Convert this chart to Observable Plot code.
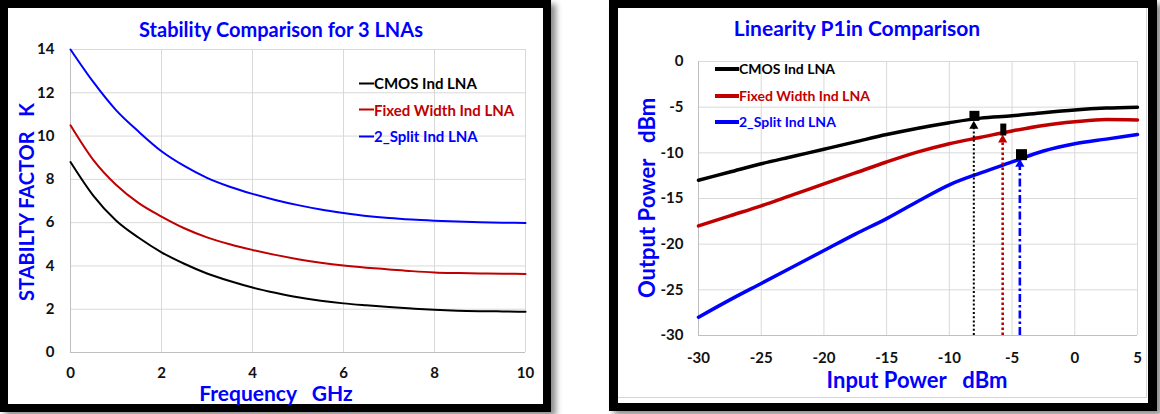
<!DOCTYPE html>
<html><head><meta charset="utf-8">
<script src="https://cdn.jsdelivr.net/npm/d3@7"></script>
<script src="https://cdn.jsdelivr.net/npm/@observablehq/plot@0.6"></script>
<style>
html,body{margin:0;padding:0;background:#fff;width:1160px;height:414px;overflow:hidden;font-family:Lato,"Open Sans",sans-serif;}
.frame{position:absolute;background:#000;box-shadow:5px 4px 6px rgba(0,0,0,0.45);}
.inner{position:absolute;background:#fff;}
.holder{position:absolute;top:0;}
.t{position:absolute;white-space:pre;font-weight:bold;color:#0000ff;transform:translate(-50%,-50%);line-height:1;}
.rot{transform:translate(-50%,-50%) rotate(-90deg);}
.leg{position:absolute;white-space:pre;font-weight:bold;line-height:1;display:flex;align-items:center;transform:translateY(-50%);}
.leg span.ln{display:inline-block;}
svg text{white-space:pre;}
</style></head><body>
<div class="frame" style="left:0;top:0;width:551px;height:412px"><div class="inner" style="left:8px;top:8px;width:535px;height:396px"></div></div>
<div class="frame" style="left:609px;top:0;width:548px;height:411px"><div class="inner" style="left:9px;top:8px;width:530px;height:395px"></div>
  <div style="position:absolute;left:9px;top:8px;width:528px;height:389px;border-right:1px solid #d4d4d4;border-bottom:1px solid #d4d4d4"></div></div>
<div id="p1" class="holder" style="left:0"></div>
<div id="p2" class="holder" style="left:580px"></div>
<div id="txt"></div>
<script>
// ---------- Left chart: Stability ----------
const freq = [0,0.5,1,1.5,2,2.5,3,3.5,4,4.5,5,5.5,6,6.5,7,7.5,8,8.5,9,9.5,10];
const kCmos  = [8.8,7.25,6.1,5.3,4.63,4.1,3.65,3.3,3.0,2.76,2.55,2.39,2.27,2.18,2.1,2.03,1.97,1.93,1.91,1.9,1.88];
const kFixed = [10.5,8.9,7.75,6.9,6.28,5.74,5.32,5.0,4.74,4.51,4.31,4.15,4.02,3.92,3.84,3.76,3.7,3.67,3.65,3.64,3.63];
const kSplit = [14.0,12.5,11.2,10.2,9.3,8.62,8.07,7.66,7.33,7.05,6.81,6.61,6.45,6.31,6.21,6.14,6.09,6.05,6.02,6.0,5.98];
const freqTicks = [0,2,4,6,8,10];
const kTicks = [0,2,4,6,8,10,12,14];

// ---------- Right chart: Linearity ----------
const pin = [-30,-27.5,-25,-22.5,-20,-17.5,-15,-12.5,-10,-7.5,-5,-2.5,0,2.5,5];
const poCmos  = [-13.0,-12.1,-11.2,-10.4,-9.6,-8.8,-8.0,-7.3,-6.7,-6.2,-5.95,-5.6,-5.3,-5.1,-5.0];
const poFixed = [-18.0,-16.9,-15.8,-14.6,-13.4,-12.2,-11.0,-9.9,-9.0,-8.3,-7.6,-7.0,-6.6,-6.35,-6.4];
const poSplit = [-28.0,-26.1,-24.3,-22.5,-20.7,-18.9,-17.2,-15.3,-13.5,-12.2,-11.0,-9.8,-9.0,-8.5,-8.0];
const pinTicks = [-30,-25,-20,-15,-10,-5,0,5];
const poTicks = [-30,-25,-20,-15,-10,-5,0];
// P1dB markers and arrows
const p1x = [-8.0,-5.7,-4.25];
const p1y = [-5.95,-7.45,-10.2];
const p1w = [10,6,11];
const p1h = [10,12,11];
const arrowX = [-8.05,-5.75,-4.38];
const arrowTop = [-6.75,-8.25,-10.9];
const arrowDash = ["2,2.2","2.6,2.4","8,3,2.5,3"];
const arrowWidth = [2,2.6,2.6];

const names = ["CMOS Ind LNA","Fixed Width Ind LNA","2_Split Ind LNA"];
const colors = ["#000000","#c00000","#0000ff"];

const font = "Lato, 'Open Sans', sans-serif";
const grid = "#d9d9d9";
const axisCol = "#bfbfbf";
const fmt = d => String(d);

// Left
const leftRows = [];
[kCmos,kFixed,kSplit].forEach((arr,s)=>arr.forEach((v,i)=>leftRows.push({f:freq[i],k:v,s})));
const p1 = Plot.plot({
  width:552, height:414,
  marginLeft:70, marginRight:27, marginTop:49, marginBottom:62,
  style:{background:"transparent",fontFamily:font,overflow:"visible"},
  x:{domain:[0,10]}, y:{domain:[0,14]},
  marks:[
    Plot.gridX(freqTicks.slice(1),{stroke:grid,strokeOpacity:1}),
    Plot.gridY(kTicks.slice(1),{stroke:grid,strokeOpacity:1}),
    Plot.ruleX([0],{stroke:axisCol}),
    Plot.ruleY([0],{stroke:axisCol}),
    Plot.axisX(freqTicks,{tickSize:0,tickPadding:15,fontSize:15,fontWeight:"bold",fill:"#111",label:null,tickFormat:fmt}),
    Plot.axisY(kTicks,{tickSize:0,tickPadding:16,fontSize:15,fontWeight:"bold",fill:"#111",label:null,tickFormat:fmt}),
    ...[0,1,2].map(s=>Plot.line(leftRows.filter(d=>d.s===s),{x:"f",y:"k",stroke:colors[s],strokeWidth:2,curve:"monotone-x"}))
  ]
});
document.getElementById("p1").appendChild(p1);

// Right
const rightRows = [];
[poCmos,poFixed,poSplit].forEach((arr,s)=>arr.forEach((v,i)=>rightRows.push({x:pin[i],y:v,s})));
const markers = p1x.map((x,i)=>({x,y:p1y[i],w:p1w[i],h:p1h[i]}));
const rectSymbol = (w,h)=>({draw(ctx){ctx.rect(-w/2,-h/2,w,h);}});
const arrows = arrowX.map((x,i)=>({x,top:arrowTop[i],bottom:-30,c:colors[i],dash:arrowDash[i],sw:arrowWidth[i]}));
const p2 = Plot.plot({
  width:580, height:414,
  marginLeft:118, marginRight:23, marginTop:61, marginBottom:79,
  style:{background:"transparent",fontFamily:font,overflow:"visible"},
  x:{domain:[-30,5]}, y:{domain:[-30,0]},
  marks:[
    Plot.gridX(pinTicks.slice(1),{stroke:grid,strokeOpacity:1}),
    Plot.gridY(poTicks.slice(1),{stroke:grid,strokeOpacity:1}),
    Plot.ruleX([-30],{stroke:axisCol}),
    Plot.ruleY([-30],{stroke:axisCol}),
    Plot.axisX(pinTicks,{tickSize:0,tickPadding:17,fontSize:15,fontWeight:"bold",fill:"#111",label:null,tickFormat:fmt}),
    Plot.axisY(poTicks,{tickSize:0,tickPadding:15,fontSize:15,fontWeight:"bold",fill:"#111",label:null,tickFormat:fmt}),
    ...[0,1,2].map(s=>Plot.line(rightRows.filter(d=>d.s===s),{x:"x",y:"y",stroke:colors[s],strokeWidth:3.5,curve:"monotone-x"})),
    ...arrows.map(a=>Plot.ruleX([a],{x:"x",y1:"bottom",y2:"top",stroke:a.c,strokeWidth:a.sw,strokeDasharray:a.dash})),
    ...arrows.map(a=>Plot.dot([a],{x:"x",y:"top",symbol:"triangle",r:3.4,fill:a.c,stroke:"none",dy:3})),
    ...markers.map(m=>Plot.dot([m],{x:"x",y:"y",symbol:rectSymbol(m.w,m.h),r:5,fill:"#000",stroke:"none"}))
  ]
});
document.getElementById("p2").appendChild(p2);

// Texts (titles, axis labels, legends)
const txt = document.getElementById("txt");
function addT(s,x,y,size,extra){const d=document.createElement("div");d.className="t"+(extra||"");d.textContent=s;d.style.left=x+"px";d.style.top=y+"px";d.style.fontSize=size+"px";txt.appendChild(d);return d;}
addT("Stability Comparison for 3 LNAs",281,29,20);
addT("Frequency   GHz",276,392,21);
addT("STABILTY FACTOR   K",26,202,20," rot");
addT("Linearity P1in Comparison",857,27,21);
addT("Input Power   dBm",917,380,22);
addT("Output Power   dBm",647,198,22," rot");
function addLeg(x,y,lineW,lineH,size,rowGap){
  names.forEach((n,i)=>{
    const d=document.createElement("div");d.className="leg";
    d.style.left=x+"px";d.style.top=(y+i*rowGap)+"px";d.style.fontSize=size+"px";d.style.color=colors[i];
    const l=document.createElement("span");l.className="ln";l.style.width=lineW+"px";l.style.height=lineH+"px";l.style.background=colors[i];
    const t=document.createElement("span");t.textContent=n;
    d.appendChild(l);d.appendChild(t);txt.appendChild(d);
  });
}
addLeg(359,83,15,2,15,26.5);
addLeg(715,69,24,4,14,26.5);
</script>
</body></html>
